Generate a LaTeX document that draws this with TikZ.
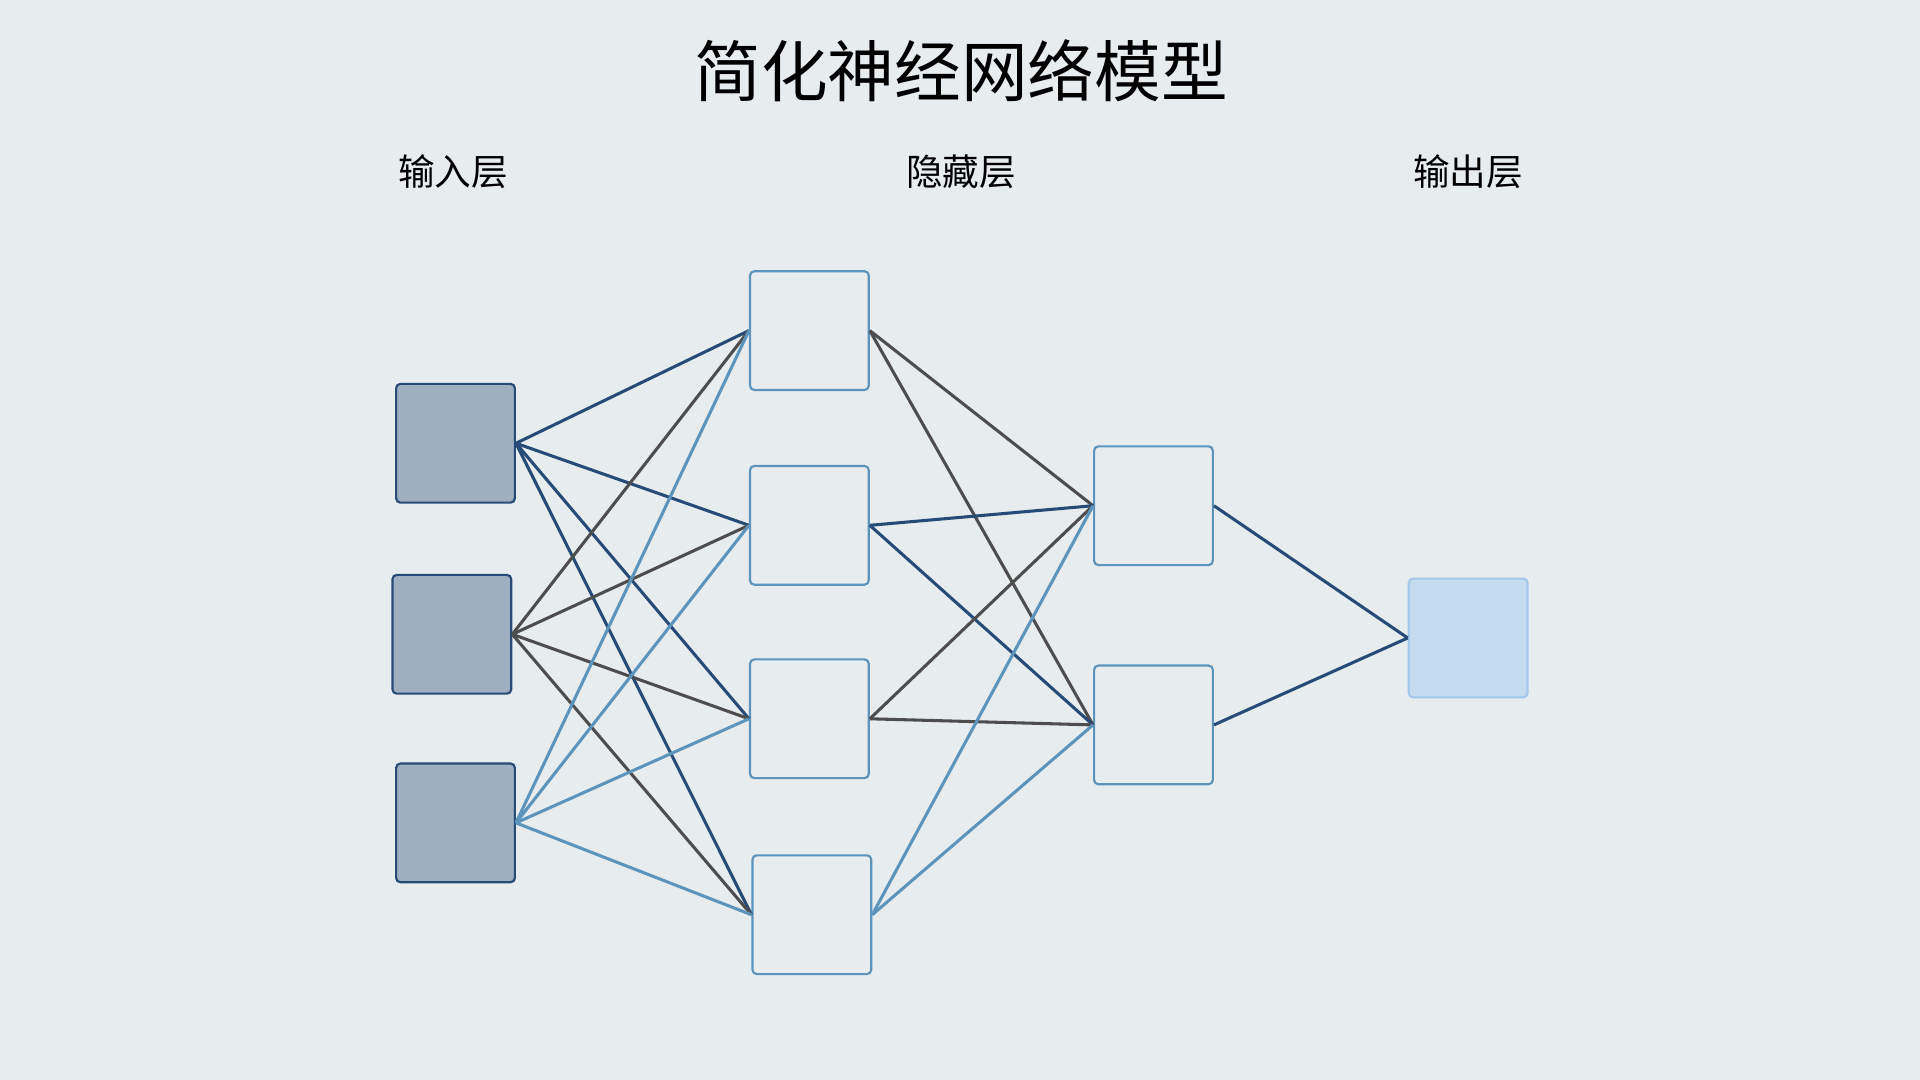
\documentclass[tikz,border=0pt]{standalone}
\usepackage{fontspec}
\setmainfont{Noto Sans CJK SC}
\usetikzlibrary{positioning}
\definecolor{bgcol}{HTML}{E7ECEF}
\definecolor{infill}{HTML}{9EAFC1}
\definecolor{dkblue}{HTML}{264B77}
\definecolor{ltblue}{HTML}{5D94BB}
\definecolor{dkgray}{HTML}{4D4D4D}
\definecolor{outfill}{HTML}{C5DCF0}
\definecolor{outdraw}{HTML}{A3C7EA}
\tikzset{
  unit/.style={minimum width=1.94cm, minimum height=1.94cm, rounded corners=0.07cm,
    line width=0.035cm, inner sep=0pt},
  inunit/.style={unit, draw=dkblue, fill=infill},
  hidunit/.style={unit, draw=ltblue, fill=bgcol},
  outunit/.style={unit, draw=outdraw, fill=outfill},
  layerlab/.style={font=\fontsize{17}{20}\selectfont},
  link/.style={line width=0.05cm}
}
\begin{document}
\begin{tikzpicture}[x=0.02cm, y=-0.02cm]
    \fill[bgcol] (0,0) rectangle (1568,882);
    \useasboundingbox (0,0) rectangle (1568,882);
    % title and layer labels
    \node (title) at (785,58) {\fontsize{31}{36}\selectfont 简化神经网络模型};
    \node[layerlab] (labin) at (370,140) {输入层};
    \node[layerlab] (labhid) at (785,140) {隐藏层};
    \node[layerlab] (labout) at (1199,140) {输出层};
    % units
    \node[inunit] (i1) at (372,362) {};
    \node[inunit] (i2) at (369,518) {};
    \node[inunit] (i3) at (372,672) {};
    \node[hidunit] (h1) at (661,270) {};
    \node[hidunit] (h2) at (661,429) {};
    \node[hidunit] (h3) at (661,587) {};
    \node[hidunit] (h4) at (663,747) {};
    \node[hidunit] (g1) at (942,413) {};
    \node[hidunit] (g2) at (942,592) {};
    \node[outunit] (o1) at (1199,521) {};
    % links
    \foreach \src/\col in {i1/dkblue, i2/dkgray, i3/ltblue}
      \foreach \dst in {h1,h2,h3,h4}
        \draw[link, \col] (\src.east) -- (\dst.west);
    \foreach \src/\col in {h1/dkgray, h2/dkblue, h3/dkgray, h4/ltblue}
      \foreach \dst in {g1,g2}
        \draw[link, \col] (\src.east) -- (\dst.west);
    \foreach \src in {g1,g2}
      \draw[link, dkblue] (\src.east) -- (o1.west);
\end{tikzpicture}
\end{document}
